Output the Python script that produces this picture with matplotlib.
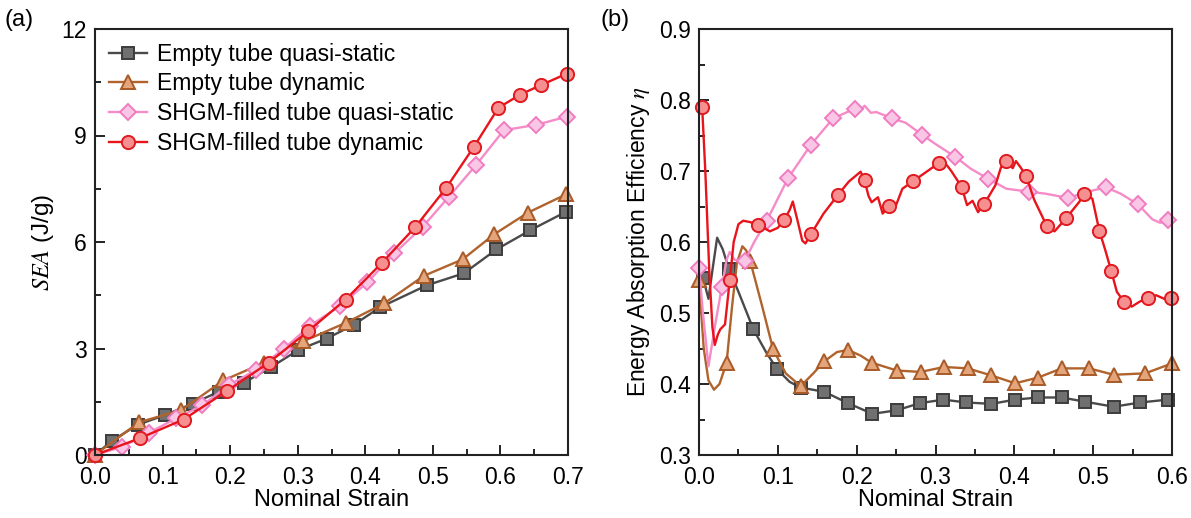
import matplotlib
matplotlib.use("Agg")
import matplotlib.pyplot as plt
from matplotlib.ticker import MultipleLocator

plt.rcParams['font.family'] = ['Liberation Sans', 'DejaVu Sans']
plt.rcParams['mathtext.fontset'] = 'stix'

# ---------------- Panel (a): SEA vs nominal strain ----------------
labels = ["Empty tube quasi-static", "Empty tube dynamic",
          "SHGM-filled tube quasi-static", "SHGM-filled tube dynamic"]

a_empty_qs_x = [0, 0.025, 0.063, 0.103, 0.145, 0.183, 0.221, 0.261, 0.301, 0.343,
                0.383, 0.422, 0.491, 0.546, 0.594, 0.644, 0.697]
a_empty_qs_y = [0, 0.40, 0.85, 1.12, 1.45, 1.78, 2.04, 2.48, 2.96, 3.28,
                3.67, 4.16, 4.78, 5.12, 5.79, 6.33, 6.85]

a_empty_dy_x = [0, 0.065, 0.128, 0.19, 0.25, 0.308, 0.372, 0.428, 0.487, 0.544,
                0.591, 0.641, 0.697]
a_empty_dy_y = [0, 0.92, 1.27, 2.10, 2.60, 3.20, 3.73, 4.27, 5.05, 5.51,
                6.22, 6.83, 7.34]

a_shgm_qs_x = [0, 0.04, 0.08, 0.12, 0.159, 0.198, 0.238, 0.28, 0.318, 0.362,
               0.403, 0.443, 0.485, 0.524, 0.564, 0.605, 0.653, 0.698]
a_shgm_qs_y = [0, 0.23, 0.63, 1.03, 1.40, 1.97, 2.39, 3.00, 3.64, 4.19,
               4.86, 5.68, 6.43, 7.28, 8.17, 9.15, 9.30, 9.53]

a_shgm_dy_x = [0, 0.066, 0.131, 0.195, 0.257, 0.315, 0.371, 0.424, 0.474, 0.52,
               0.561, 0.597, 0.629, 0.66, 0.698]
a_shgm_dy_y = [0, 0.47, 1.00, 1.80, 2.60, 3.48, 4.38, 5.40, 6.42, 7.53,
               8.69, 9.78, 10.15, 10.42, 10.74]

# ---------------- Panel (b): energy absorption efficiency ----------------
b_empty_qs_x = [0.0, 0.005, 0.012, 0.017, 0.023, 0.03, 0.038, 0.05, 0.069, 0.085,
                0.099, 0.115, 0.129, 0.159, 0.189, 0.22, 0.251, 0.28, 0.31, 0.339,
                0.371, 0.401, 0.43, 0.46, 0.49, 0.526, 0.56, 0.595]
b_empty_qs_y = [0.555, 0.55, 0.52, 0.56, 0.606, 0.59, 0.562, 0.53, 0.477, 0.445,
                0.421, 0.403, 0.395, 0.389, 0.373, 0.358, 0.363, 0.373, 0.378, 0.374,
                0.372, 0.378, 0.381, 0.381, 0.375, 0.368, 0.374, 0.378]
b_empty_qs_marks = [1, 6, 8, 10, 12, 13, 14, 15, 16, 17, 18, 19, 20, 21, 22, 23, 24, 25, 26, 27]

b_empty_dy_x = [0.0, 0.006, 0.012, 0.019, 0.026, 0.035, 0.042, 0.048, 0.055, 0.06,
                0.065, 0.08, 0.094, 0.11, 0.129, 0.145, 0.159, 0.175, 0.189, 0.205,
                0.219, 0.251, 0.281, 0.311, 0.341, 0.371, 0.401, 0.43, 0.46, 0.495,
                0.526, 0.566, 0.6]
b_empty_dy_y = [0.547, 0.45, 0.405, 0.392, 0.40, 0.43, 0.51, 0.57, 0.594, 0.588,
                0.573, 0.51, 0.449, 0.415, 0.397, 0.415, 0.432, 0.445, 0.448, 0.44,
                0.43, 0.419, 0.417, 0.424, 0.422, 0.412, 0.401, 0.409, 0.422, 0.422,
                0.413, 0.415, 0.429]
b_empty_dy_marks = [0, 5, 10, 12, 14, 16, 18, 20, 21, 22, 23, 24, 25, 26, 27, 28, 29, 30, 31, 32]

b_shgm_qs_x = [0.0, 0.005, 0.012, 0.02, 0.029, 0.035, 0.039, 0.045, 0.058, 0.07,
               0.086, 0.113, 0.142, 0.17, 0.198, 0.205, 0.21, 0.218, 0.225, 0.245,
               0.262, 0.283, 0.3, 0.325, 0.345, 0.367, 0.39, 0.418, 0.44, 0.468,
               0.49, 0.516, 0.535, 0.557, 0.575, 0.585, 0.595]
b_shgm_qs_y = [0.564, 0.50, 0.425, 0.48, 0.537, 0.575, 0.586, 0.575, 0.573, 0.60,
               0.63, 0.69, 0.737, 0.774, 0.788, 0.785, 0.792, 0.782, 0.783, 0.774,
               0.768, 0.751, 0.738, 0.72, 0.703, 0.689, 0.675, 0.671, 0.668, 0.662,
               0.670, 0.677, 0.668, 0.653, 0.632, 0.627, 0.631]
b_shgm_qs_marks = [0, 4, 8, 10, 11, 12, 13, 14, 19, 21, 23, 25, 27, 29, 31, 33, 36]

b_shgm_dy_x = [0.004, 0.008, 0.013, 0.017, 0.020, 0.024, 0.027, 0.033, 0.039, 0.044,
               0.05, 0.056, 0.065, 0.075, 0.09, 0.1, 0.108, 0.115, 0.119, 0.125,
               0.131, 0.135, 0.142, 0.158, 0.176, 0.19, 0.205, 0.21, 0.215, 0.219,
               0.227, 0.233, 0.241, 0.25, 0.258, 0.272, 0.29, 0.304, 0.311, 0.32,
               0.333, 0.34, 0.347, 0.354, 0.361, 0.368, 0.376, 0.383, 0.389, 0.398,
               0.402, 0.408, 0.415, 0.425, 0.441, 0.451, 0.466, 0.482, 0.489, 0.499,
               0.508, 0.515, 0.523, 0.53, 0.539, 0.549, 0.559, 0.569, 0.58, 0.59,
               0.599]
b_shgm_dy_y = [0.79, 0.70, 0.56, 0.48, 0.455, 0.47, 0.477, 0.484, 0.546, 0.60,
               0.625, 0.63, 0.628, 0.624, 0.615, 0.62, 0.631, 0.645, 0.657, 0.63,
               0.602, 0.598, 0.611, 0.64, 0.666, 0.685, 0.699, 0.687, 0.665, 0.656,
               0.663, 0.64, 0.651, 0.652, 0.675, 0.686, 0.70, 0.711, 0.713, 0.70,
               0.678, 0.652, 0.658, 0.642, 0.653, 0.665, 0.68, 0.705, 0.714, 0.704,
               0.714, 0.705, 0.693, 0.66, 0.623, 0.615, 0.634, 0.656, 0.667, 0.661,
               0.615, 0.59, 0.559, 0.53, 0.516, 0.509, 0.516, 0.521, 0.525, 0.52,
               0.521]
b_shgm_dy_marks = [0, 8, 13, 16, 22, 24, 27, 32, 35, 37, 40, 44, 48, 52, 54, 56, 58,
                   60, 62, 64, 67, 70]

# ---------------- styles ----------------
styles = [
    dict(color='#4a4a4a', marker='s', mfc='#707070', mec='#3c3c3c', ms=8),
    dict(color='#b0632d', marker='^', mfc='#e3a579', mec='#a85a28', ms=9.5),
    dict(color='#f58cc8', marker='D', mfc='#fac6e6', mec='#f07cc0', ms=8),
    dict(color='#e8141c', marker='o', mfc='#f69090', mec='#e01a20', ms=9.5),
]

W, H = 1191, 518
fig = plt.figure(figsize=(W / 100, H / 100), dpi=100)
axL = fig.add_axes([95 / W, (H - 455) / H, 473 / W, 426 / H])
axR = fig.add_axes([699 / W, (H - 455) / H, 473 / W, 426 / H])

TICK_FS = 16.5
LAB_FS = 17

# Panel a
a_data = [(a_empty_qs_x, a_empty_qs_y), (a_empty_dy_x, a_empty_dy_y),
          (a_shgm_qs_x, a_shgm_qs_y), (a_shgm_dy_x, a_shgm_dy_y)]
for (x, y), st, lab in zip(a_data, styles, labels):
    axL.plot(x, y, color=st['color'], lw=1.7, marker=st['marker'],
             markerfacecolor=st['mfc'], markeredgecolor=st['mec'],
             markersize=st['ms'], markeredgewidth=1.4, label=lab, clip_on=False)

axL.set_xlim(0, 0.7)
axL.set_ylim(0, 12)
axL.xaxis.set_major_locator(MultipleLocator(0.1))
axL.xaxis.set_minor_locator(MultipleLocator(0.05))
axL.yaxis.set_major_locator(MultipleLocator(3))
axL.yaxis.set_minor_locator(MultipleLocator(1.5))
axL.set_xlabel("Nominal Strain", fontsize=LAB_FS, labelpad=0)
axL.set_ylabel(r"$\mathit{SEA}$ (J/g)", fontsize=17.5, labelpad=4)
leg = axL.legend(loc='upper left', fontsize=16.5, frameon=False,
                 handlelength=1.65, handletextpad=0.45, labelspacing=0.29,
                 borderaxespad=0.2, bbox_to_anchor=(0.0, 1.0))

# Panel b
b_data = [(b_empty_qs_x, b_empty_qs_y, b_empty_qs_marks),
          (b_empty_dy_x, b_empty_dy_y, b_empty_dy_marks),
          (b_shgm_qs_x, b_shgm_qs_y, b_shgm_qs_marks),
          (b_shgm_dy_x, b_shgm_dy_y, b_shgm_dy_marks)]
for (x, y, mk), st in zip(b_data, styles):
    axR.plot(x, y, color=st['color'], lw=1.7, marker=st['marker'],
             markevery=mk, markerfacecolor=st['mfc'], markeredgecolor=st['mec'],
             markersize=st['ms'], markeredgewidth=1.4, clip_on=False)

axR.set_xlim(0, 0.6)
axR.set_ylim(0.3, 0.9)
axR.xaxis.set_major_locator(MultipleLocator(0.1))
axR.xaxis.set_minor_locator(MultipleLocator(0.05))
axR.yaxis.set_major_locator(MultipleLocator(0.1))
axR.yaxis.set_minor_locator(MultipleLocator(0.05))
axR.set_xlabel("Nominal Strain", fontsize=LAB_FS, labelpad=0)
axR.set_ylabel(r"Energy Absorption Efficiency $\mathit{\eta}$", fontsize=16.5, labelpad=5)

for ax in (axL, axR):
    for sp in ax.spines.values():
        sp.set_linewidth(1.5)
        sp.set_color('#222222')
    ax.tick_params(which='both', direction='in', top=False, right=False,
                   labelsize=TICK_FS, width=1.4, color='#222222')
    ax.tick_params(which='major', length=7)
    ax.tick_params(which='minor', length=4)
    ax.tick_params(axis='x', which='major', pad=8)
    ax.tick_params(axis='y', which='major', pad=6)
    ax.xaxis.set_major_formatter(plt.FuncFormatter(lambda v, p: f"{v:.1f}"))

axR.yaxis.set_major_formatter(plt.FuncFormatter(lambda v, p: f"{v:.1f}"))
axL.yaxis.set_major_formatter(plt.FuncFormatter(lambda v, p: f"{v:.0f}"))

fig.text(4 / W, 1 - 20 / H, "(a)", fontsize=17, va='center', ha='left')
fig.text(600 / W, 1 - 20 / H, "(b)", fontsize=17, va='center', ha='left')

fig.savefig("out.png", dpi=100)
